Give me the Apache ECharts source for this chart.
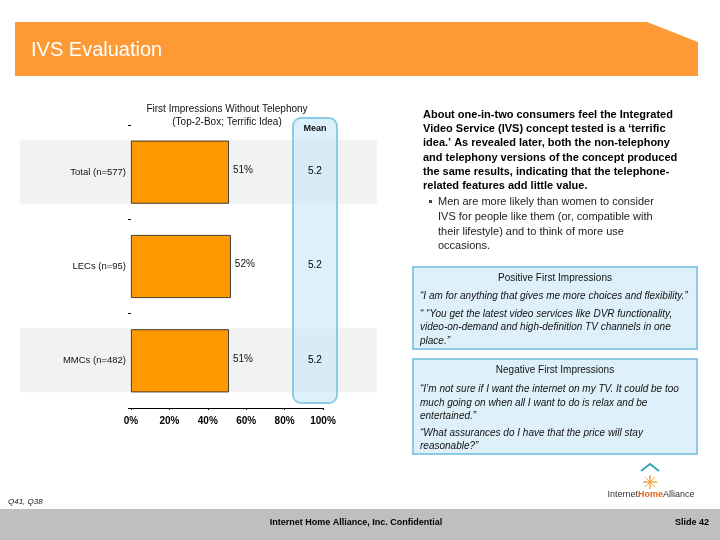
<!DOCTYPE html>
<html>
<head>
<meta charset="utf-8">
<script src="https://cdn.jsdelivr.net/npm/echarts@6/dist/echarts.min.js"></script>
<style>html,body{margin:0;padding:0;background:#fff}#c{width:720px;height:540px}</style>
</head>
<body>
<div id="c"></div>
<script>
var categories = ['Total (n=577)', 'LECs (n=95)', 'MMCs (n=482)'];
var top2Box = [51, 52, 51];
var meanScores = ['5.2', '5.2', '5.2'];
var xTicks = [0, 20, 40, 60, 80, 100];
var shadedRows = [0, 2];

var FF = "'Liberation Sans', Arial, sans-serif";
var chart = echarts.init(document.getElementById('c'), null, {renderer: 'canvas'});

chart.setOption({
  animation: false,
  textStyle: {fontFamily: FF},
  title: {
    text: 'First Impressions Without Telephony\n(Top-2-Box; Terrific Idea)',
    left: 222, top: 98, textAlign: 'center',
    textStyle: {fontSize: 10, fontWeight: 'normal', color: '#111', lineHeight: 13, fontFamily: FF}
  },
  grid: {left: 131, top: 125, width: 192, height: 283, containLabel: false},
  xAxis: {
    type: 'value', min: xTicks[0], max: xTicks[xTicks.length - 1], interval: 20,
    axisLine: {show: true, lineStyle: {color: '#000', width: 1}},
    axisTick: {show: true, length: 2, lineStyle: {color: '#000'}},
    splitLine: {show: false},
    axisLabel: {formatter: '{value}%', fontSize: 10, fontWeight: 'bold', color: '#000', margin: 8, fontFamily: FF}
  },
  yAxis: {
    type: 'category', data: categories, inverse: true,
    axisLine: {show: false},
    axisTick: {show: true, length: 3, lineStyle: {color: '#000'}},
    axisLabel: {fontSize: 9.5, color: '#111', margin: 5, fontFamily: FF}
  },
  series: [
    {
      type: 'bar', data: top2Box, barWidth: 63, z: 3,
      itemStyle: {color: '#ff9900', borderColor: '#1a1a1a', borderWidth: 0.8},
      label: {show: true, position: 'right', distance: 4, offset: [0, -2], formatter: '{c}%', fontSize: 10, color: '#111', fontFamily: FF}
    },
    {
      type: 'scatter', z: 6, symbolSize: 2, itemStyle: {color: 'transparent', opacity: 1},
      data: meanScores.map(function (m, i) { return [95.8, i]; }),
      label: {show: true, position: 'inside', offset: [0, -1], fontSize: 10, color: '#000', opacity: 1, fontFamily: FF,
        textBorderWidth: 0,
        formatter: function (p) { return meanScores[p.dataIndex]; }}
    }
  ]
});

function T(text, x, y, opt) {
  opt = opt || {};
  return {
    type: 'text', z: opt.z || 5,
    style: {
      text: text, x: x, y: y,
      fontSize: opt.size || 10, fontWeight: opt.weight || 'normal', fontStyle: opt.style || 'normal',
      fontFamily: opt.family || FF, fill: opt.color || '#111',
      align: opt.align || 'left', verticalAlign: 'middle'
    }
  };
}

var g = [];
// header band
g.push({type: 'polygon', z: 1, shape: {points: [[15, 22], [647, 22], [698, 42], [698, 76], [15, 76]]}, style: {fill: '#fd9a35'}});
g.push(T('IVS Evaluation', 31, 50, {size: 20, color: '#fff'}));

// shaded rows, from axis positions
shadedRows.forEach(function (i) {
  var cy = chart.convertToPixel({yAxisIndex: 0}, categories[i]);
  g.push({type: 'rect', z: -10, silent: true, shape: {x: 20, y: cy - 32.5, width: 357, height: 64}, style: {fill: '#f2f2f2'}});
});

// mean column
g.push({type: 'rect', z: -5, silent: true, shape: {x: 293, y: 118, width: 44, height: 285, r: 8},
  style: {fill: 'rgba(196,232,250,0.6)', stroke: '#8ccbe5', lineWidth: 2}});
g.push(T('Mean', 315, 129, {size: 9, weight: 'bold', align: 'center', color: '#111'}));

// right commentary
var boldLines = [
  'About one-in-two consumers feel the Integrated',
  'Video Service (IVS) concept tested is a \u2018terrific',
  'idea.\u2019 As revealed later, both the non-telephony',
  'and telephony versions of the concept produced',
  'the same results, indicating that the telephone-',
  'related features add little value.'
];
boldLines.forEach(function (s, i) {
  g.push(T(s, 423, 115 + i * 14.2, {size: 11, weight: 'bold', color: '#000'}));
});
g.push({type: 'rect', z: 5, shape: {x: 429, y: 200, width: 3, height: 3}, style: {fill: '#444'}});
var bulletLines = [
  'Men are more likely than women to consider',
  'IVS for people like them (or, compatible with',
  'their lifestyle) and to think of more use',
  'occasions.'
];
bulletLines.forEach(function (s, i) {
  g.push(T(s, 438, 202 + i * 14.8, {size: 11, color: '#222'}));
});

// quote boxes
function box(y, h) {
  g.push({type: 'rect', z: 1, shape: {x: 413, y: y, width: 284, height: h}, style: {fill: '#def1fa', stroke: '#8ccbe3', lineWidth: 2}});
}
box(267, 82);
g.push(T('Positive First Impressions', 555, 278, {size: 10, align: 'center', color: '#111'}));
var posQuotes = [
  ['\u201cI am for anything that gives me more choices and flexibility.\u201d', 296],
  ['\u201c \u201cYou get the latest video services like DVR functionality,', 314],
  ['video-on-demand and high-definition TV channels in one', 327],
  ['place.\u201d', 341]
];
posQuotes.forEach(function (q) { g.push(T(q[0], 420, q[1], {size: 10, style: 'italic', color: '#111'})); });

box(359, 95);
g.push(T('Negative First Impressions', 555, 370, {size: 10, align: 'center', color: '#111'}));
var negQuotes = [
  ['\u201cI\u2019m not sure if I want the internet on my TV. It could be too', 389],
  ['much going on when all I want to do is relax and be', 403],
  ['entertained.\u201d', 416],
  ['\u201cWhat assurances do I have that the price will stay', 433],
  ['reasonable?\u201d', 446]
];
negQuotes.forEach(function (q) { g.push(T(q[0], 420, q[1], {size: 10, style: 'italic', color: '#111'})); });

// footnote
g.push(T('Q41, Q38', 8, 502, {size: 8, style: 'italic', color: '#111'}));

// footer bar
g.push({type: 'rect', z: 1, shape: {x: 0, y: 509, width: 720, height: 31}, style: {fill: '#bfbfbf'}});
g.push(T('Internet Home Alliance, Inc. Confidential', 356, 523, {size: 9, weight: 'bold', align: 'center', color: '#000'}));
g.push(T('Slide 42', 709, 523, {size: 9, weight: 'bold', align: 'right', color: '#000'}));

// logo
g.push({type: 'polyline', z: 5, shape: {points: [[641, 471], [650, 464], [659, 471]]}, style: {stroke: '#3aa6b5', lineWidth: 2, fill: null}});
for (var k = 0; k < 8; k++) {
  var a = k * Math.PI / 4;
  g.push({type: 'line', z: 5, shape: {x1: 650 - 7 * Math.cos(a), y1: 482 - 7 * Math.sin(a), x2: 650 + 7 * Math.cos(a), y2: 482 + 7 * Math.sin(a)},
    style: {stroke: '#f5a54a', lineWidth: 1}});
}
g.push({type: 'text', z: 5, style: {
  text: '{a|Internet}{b|Home}{a|Alliance}', x: 651, y: 495, align: 'center', verticalAlign: 'middle',
  rich: {a: {fontSize: 9, fontFamily: FF, fill: '#333', color: '#333'}, b: {fontSize: 9, fontFamily: FF, fontWeight: 'bold', fill: '#e8641e', color: '#e8641e'}}
}});

chart.setOption({graphic: g});
</script>
</body>
</html>
